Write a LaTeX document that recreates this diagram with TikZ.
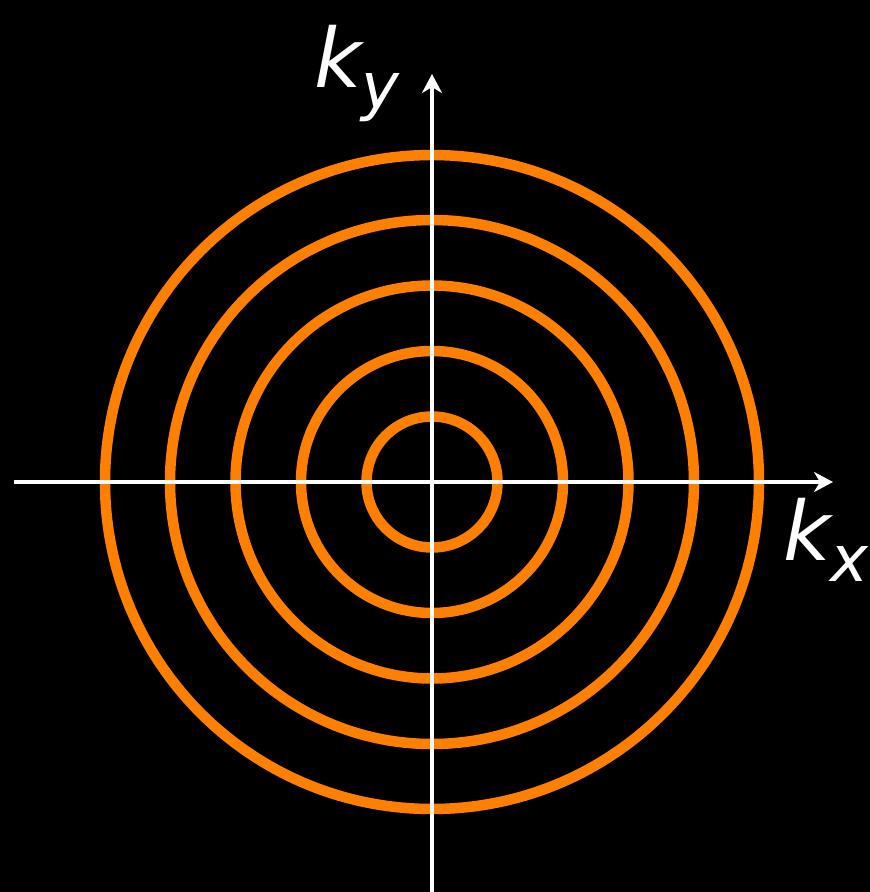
\documentclass[tikz,border=0pt]{standalone}
\usepackage{fontspec}
\setmainfont{DejaVu Sans}
\usetikzlibrary{arrows.meta}
\definecolor{ringorange}{HTML}{FF7F00}
\tikzset{
  ring/.style={draw=ringorange, line width=10.5pt},
  axis/.style={draw=white, line width=4.5pt, -{Stealth[length=19pt,width=20pt,inset=6pt]}},
  axlabel/.style={text=white, inner sep=0pt, font=\fontsize{82}{82}\selectfont\itshape},
}
\newcommand{\subsc}[1]{\raisebox{-21pt}{\fontsize{64}{64}\selectfont\itshape #1}}
\begin{document}
\begin{tikzpicture}[x=1pt,y=-1pt]
\fill[black] (0,0) rectangle (870,892);
\useasboundingbox (0,0) rectangle (870,892);
\coordinate (c) at (432,482);
\coordinate (xl) at (14,482);
\coordinate (xr) at (833,482);
\coordinate (yb) at (432,892);
\coordinate (yt) at (432,74);
\foreach \r in {65.5,131,196.5,262,327} {
  \draw[ring] (c) circle[radius=\r];
}
\draw[axis] (xl) -- (xr);
\draw[axis] (yb) -- (yt);
\node[axlabel, anchor=base west] (ky) at (314,87) {k\subsc{y}};
\node[axlabel, anchor=base west] (kx) at (783,560) {k\subsc{x}};
\end{tikzpicture}
\end{document}
